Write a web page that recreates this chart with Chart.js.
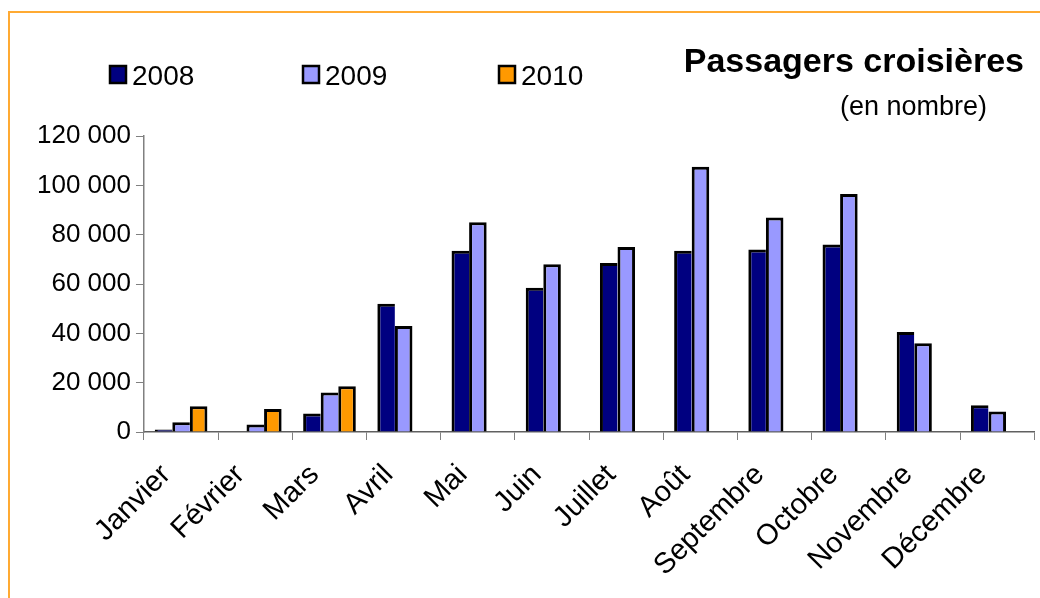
<!DOCTYPE html>
<html>
<head>
<meta charset="utf-8">
<script src="https://cdn.jsdelivr.net/npm/chart.js@4.4.1/dist/chart.umd.min.js"></script>
<style>
  html, body { margin: 0; padding: 0; background: #fff; }
  #myChart { display: block; }
</style>
</head>
<body>
<canvas id="myChart" width="1040" height="598"></canvas>
<script>
const months = ["Janvier", "Février", "Mars", "Avril", "Mai", "Juin", "Juillet", "Août", "Septembre", "Octobre", "Novembre", "Décembre"];
const years = ["2008", "2009", "2010"];
const passagers2008 = [1000, null, 7500, 52000, 73500, 58500, 68500, 73500, 74000, 76000, 40500, 10800];
const passagers2009 = [4000, 3000, 16000, 43000, 85000, 68000, 75000, 107500, 87000, 96500, 36000, 8300];
const passagers2010 = [10400, 9300, 18500, null, null, null, null, null, null, null, null, null];
const yTicks = [0, 20000, 40000, 60000, 80000, 100000, 120000];
const colors = ["#000080", "#9999FF", "#FF9900"];

const FONT = '"Liberation Sans", Arial, sans-serif';

// titre, légende et cadre dessinés à la main
const decorPlugin = {
  id: "decor",
  afterDraw(chart) {
    const c = chart.ctx;
    c.save();
    // cadre orange
    c.strokeStyle = "#FFAA33";
    c.lineWidth = 2;
    c.beginPath();
    c.moveTo(9, 598);
    c.lineTo(9, 12);
    c.lineTo(1040, 12);
    c.stroke();

    // titre
    c.fillStyle = "#000";
    c.textAlign = "right";
    c.textBaseline = "alphabetic";
    c.font = "bold 34px " + FONT;
    c.fillText("Passagers croisières", 1024, 72);
    c.font = "27px " + FONT;
    c.fillText("(en nombre)", 987, 115);

    // légende
    const legendX = [110, 303, 499];
    c.textAlign = "left";
    c.font = "28px " + FONT;
    chart.data.datasets.forEach(function (ds, i) {
      const x = legendX[i];
      c.fillStyle = ds.backgroundColor;
      c.fillRect(x, 66, 16, 17);
      c.strokeStyle = "#000";
      c.lineWidth = 2.5;
      c.strokeRect(x, 66, 16, 17);
      c.fillStyle = "#000";
      c.fillText(ds.label, x + 22, 85);
    });
    c.restore();
  },
};

// bordure noire de 3 px, sans doubler le trait entre deux barres voisines
function barBorder(context) {
  const sets = context.chart.data.datasets;
  const next = sets[context.datasetIndex + 1];
  const hasNext = next && next.data[context.dataIndex] != null;
  return { top: 3, left: 3, right: hasNext ? 0 : 3, bottom: 0 };
}

const ctx = document.getElementById("myChart").getContext("2d");

const data = {
  labels: months,
  datasets: [passagers2008, passagers2009, passagers2010].map(function (values, i) {
    return {
      label: years[i],
      data: values,
      backgroundColor: colors[i],
      borderColor: "#000",
      borderWidth: barBorder,
      borderSkipped: false,
      barPercentage: 1.0,
      categoryPercentage: 0.71,
    };
  }),
};

const config = {
  type: "bar",
  data: data,
  plugins: [decorPlugin],
  options: {
    responsive: false,
    animation: false,
    devicePixelRatio: 1,
    layout: {
      padding: { top: 136, left: 32, right: 3, bottom: 0 },
    },
    plugins: {
      legend: { display: false },
      title: { display: false },
      tooltip: { enabled: false },
    },
    scales: {
      x: {
        afterFit(scale) {
          scale.height = 166; // axe des x posé à y = 432
        },
        grid: {
          offset: true,
          drawOnChartArea: false,
          drawTicks: true,
          tickLength: 8,
          color: "#808080",
        },
        border: { color: "#606060", width: 1.5 },
        ticks: {
          font: { family: FONT, size: 29 },
          color: "#000",
          maxRotation: 45,
          minRotation: 45,
          autoSkip: false,
          padding: 18,
          labelOffset: -15,
        },
      },
      y: {
        min: 0,
        max: 120000,
        afterBuildTicks(scale) {
          scale.ticks = yTicks.map(function (v) { return { value: v }; });
        },
        grid: {
          drawOnChartArea: false,
          drawTicks: true,
          tickLength: 8,
          color: "#808080",
        },
        border: { color: "#808080", width: 1.5 },
        ticks: {
          font: { family: FONT, size: 26 },
          color: "#000",
          padding: 5,
          callback: function (value) {
            return String(value).replace(/\B(?=(\d{3})+(?!\d))/g, " ");
          },
        },
      },
    },
  },
};

const passagersChart = new Chart(ctx, config);
</script>
</body>
</html>
